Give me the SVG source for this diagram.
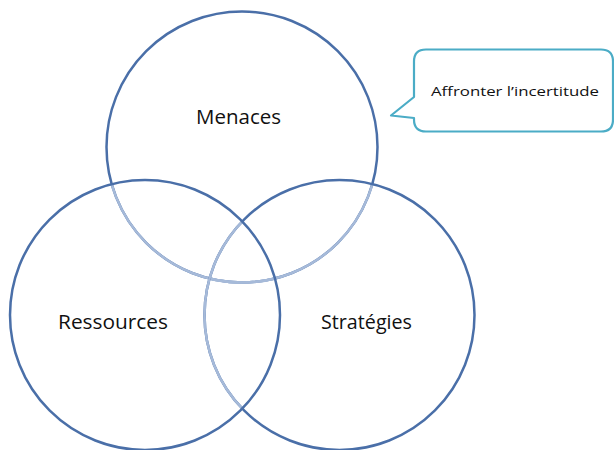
<svg xmlns="http://www.w3.org/2000/svg" width="614" height="450" viewBox="0 0 614 450">
  <style>
    .ring { fill: none; stroke: #4a6fa8; stroke-width: 2.5; }
    .inner { fill: none; stroke: #a6bad9; stroke-width: 2.5; }
    .lbl { font-family: "Open Sans", "Liberation Sans", sans-serif; font-size: 20px; fill: #111; text-anchor: middle; }
    .call { fill: #fff; stroke: #4bacc6; stroke-width: 2.2; stroke-linejoin: round; }
    .ctext { font-family: "Open Sans", "Liberation Sans", sans-serif; font-size: 13.5px; fill: #111; }
  </style>
  <defs>
    <clipPath id="inR"><circle cx="145" cy="315" r="135"/></clipPath>
    <clipPath id="inS"><circle cx="339.5" cy="315" r="135"/></clipPath>
  </defs>
  <rect width="614" height="450" fill="#fff"/>
  <g id="connectors"></g>
  <g id="menaces">
    <circle class="ring" cx="242" cy="147" r="135.5"/>
    <g clip-path="url(#inR)"><circle class="inner" cx="242" cy="147" r="135.5"/></g>
    <g clip-path="url(#inS)"><circle class="inner" cx="242" cy="147" r="135.5"/></g>
  </g>
  <g id="strategies">
    <circle class="ring" cx="339.5" cy="315" r="135"/>
    <g clip-path="url(#inR)"><circle class="inner" cx="339.5" cy="315" r="135"/></g>
  </g>
  <g id="ressources">
    <circle class="ring" cx="145" cy="315" r="135"/>
  </g>
  <g id="labels">
    <text class="lbl" x="238.5" y="124" textLength="85" lengthAdjust="spacingAndGlyphs">Menaces</text>
    <text class="lbl" x="113" y="329" textLength="110" lengthAdjust="spacingAndGlyphs">Ressources</text>
    <text class="lbl" x="366.5" y="329" textLength="91" lengthAdjust="spacingAndGlyphs">Stratégies</text>
  </g>
  <g id="callout">
    <path class="call" d="M426 49.5 H601 Q613 49.5 613 61.5 V119.5 Q613 131.5 601 131.5 H426 Q414 131.5 414 119.5 V118 L391 115.5 L414 97 V61.5 Q414 49.5 426 49.5 Z"/>
    <text class="ctext" x="431" y="96" textLength="168" lengthAdjust="spacingAndGlyphs">Affronter l’incertitude</text>
  </g>
</svg>
